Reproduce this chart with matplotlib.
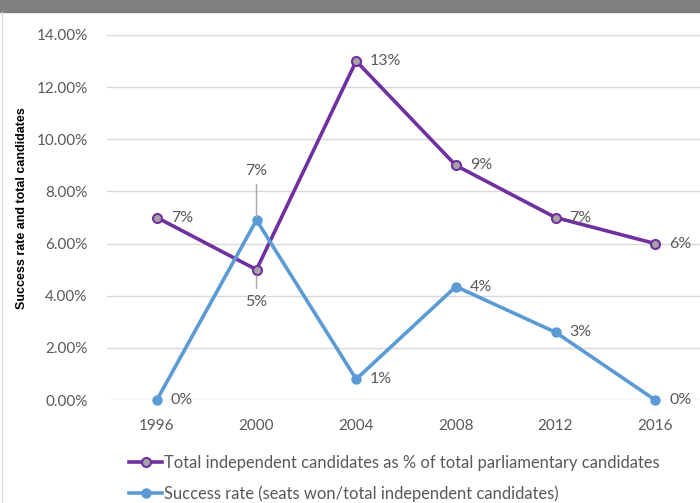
import matplotlib
matplotlib.use('Agg')
import matplotlib.pyplot as plt
from matplotlib.patches import Rectangle
from matplotlib.lines import Line2D
from matplotlib.ticker import FuncFormatter

years = ['1996', '2000', '2004', '2008', '2012', '2016']
total_pct = [7.0, 5.0, 13.0, 9.0, 7.0, 6.0]
success_pct = [0.0, 6.9, 0.8, 4.35, 2.6, 0.0]
total_labels = ['7%', '5%', '13%', '9%', '7%', '6%']
success_labels = ['0%', '7%', '1%', '4%', '3%', '0%']

purple = '#7030A0'
blue = '#5B9BD5'
grey_txt = '#595959'

plt.rcParams['font.family'] = ['Lato', 'DejaVu Sans']

fig = plt.figure(figsize=(7, 5.03), dpi=100)
fig.patches.append(Rectangle((0, 1 - 12 / 503), 1, 12 / 503, transform=fig.transFigure,
                             color='#7F7F7F', zorder=0))
fig.add_artist(Line2D([2 / 700, 2 / 700], [0, 1 - 12 / 503], transform=fig.transFigure,
                      color='#D9D9D9', lw=1))

ax = fig.add_axes([107 / 700, 103 / 503, 598 / 700, 365 / 503])
x = list(range(len(years)))

ax.plot(x, total_pct, color=purple, lw=2.6, marker='o', ms=6.5,
        mfc='#A5A5A5', mec=purple, mew=1.5, clip_on=False, zorder=3)
ax.plot(x, success_pct, color=blue, lw=2.6, marker='o', ms=6.5,
        mfc=blue, mec=blue, clip_on=False, zorder=3)

ax.set_xlim(-0.5, 5.5)
ax.set_ylim(0, 14)
ax.set_yticks(range(0, 15, 2))
ax.yaxis.set_major_formatter(FuncFormatter(lambda v, p: f'{v:.2f}%'))
ax.set_xticks(x)
ax.set_xticklabels(years)
ax.grid(axis='y', color='#D9D9D9', lw=1)
ax.set_axisbelow(True)
for s in ax.spines.values():
    s.set_visible(False)
ax.tick_params(length=0, labelsize=11, colors=grey_txt)
ax.tick_params(axis='x', pad=14)
ax.tick_params(axis='y', pad=14)
fig.text(22 / 700, 1 - 208 / 503, 'Success rate and total candidates', family=['Liberation Sans'],
         fontweight='bold', fontsize=9, color='black', rotation=90, ha='center', va='center')

lab_kw = dict(fontsize=11.5, color=grey_txt, zorder=4)
for i, (v, t) in enumerate(zip(total_pct, total_labels)):
    if i == 1:
        ax.annotate(t, xy=(i, v - 0.25), xytext=(i, v - 1.25), ha='center', va='center',
                    arrowprops=dict(arrowstyle='-', color='#A6A6A6', lw=1, shrinkA=3, shrinkB=0),
                    **lab_kw)
    else:
        ax.annotate(t, xy=(i, v), xytext=(10, 0), textcoords='offset points',
                    ha='left', va='center', **lab_kw)
for i, (v, t) in enumerate(zip(success_pct, success_labels)):
    if i == 1:
        ax.annotate(t, xy=(i, v + 0.1), xytext=(i, v + 1.9), ha='center', va='center',
                    arrowprops=dict(arrowstyle='-', color='#A6A6A6', lw=1, shrinkA=3, shrinkB=0),
                    **lab_kw)
    else:
        ax.annotate(t, xy=(i, v), xytext=(10, 0), textcoords='offset points',
                    ha='left', va='center', **lab_kw)

handles = [
    Line2D([], [], color=purple, lw=2.6, marker='o', ms=6.5, mfc='#A5A5A5', mec=purple, mew=1.5),
    Line2D([], [], color=blue, lw=2.6, marker='o', ms=6.5, mfc=blue, mec=blue),
]
fig.legend(handles, ['Total independent candidates as % of total parliamentary candidates',
                     'Success rate (seats won/total independent candidates)'],
           loc='upper left', bbox_to_anchor=(129 / 700, 1 - 455 / 503), frameon=False,
           fontsize=11.9, labelcolor=grey_txt, handlelength=2.0, handletextpad=0.1,
           labelspacing=0.85, borderaxespad=0, borderpad=0)

fig.savefig('out.png', dpi=100)
